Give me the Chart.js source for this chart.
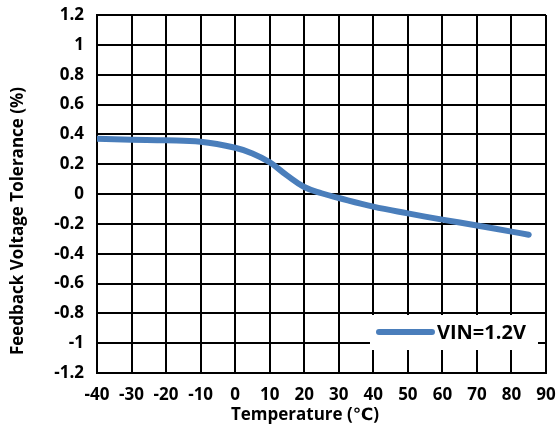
<!DOCTYPE html>
<html>
<head>
<meta charset="utf-8">
<script src="https://cdn.jsdelivr.net/npm/chart.js@4.4.1/dist/chart.umd.min.js"></script>
<style>
  html, body { margin: 0; padding: 0; background: #ffffff; }
  #wrap { width: 560px; height: 427px; position: relative; }
</style>
</head>
<body>
<div id="wrap"><canvas id="chart"></canvas></div>
<script>
// Feedback voltage tolerance over temperature
const temperatures = [-40, -30, -20, -10, 0, 5, 10, 15, 20, 25, 30, 40, 50, 60, 70, 80, 85];
const tolerance = [0.37, 0.364, 0.36, 0.35, 0.31, 0.272, 0.213, 0.125, 0.047, 0.005, -0.027, -0.085, -0.13, -0.172, -0.211, -0.252, -0.273];
const seriesLabel = 'VIN=1.2V';
const xTitle = 'Temperature (℃)';
const yTitle = 'Feedback Voltage Tolerance (%)';
const xRange = { min: -40, max: 90, step: 10 };
const yRange = { min: -1.2, max: 1.2, step: 0.2 };

const FONT = '"Open Sans", "DejaVu Sans", sans-serif';
const lineColor = '#4A7EBB';

// Axis titles placed beside the plot, plus the boxed legend inside the plot
const annotations = {
  id: 'annotations',
  beforeDatasetsDraw(chart) {
    const { ctx, chartArea } = chart;
    const ds = chart.data.datasets[0];
    const x = chartArea.left + (chartArea.right - chartArea.left) * 0.608;
    const y = chartArea.top + (chartArea.bottom - chartArea.top) * 0.838;
    ctx.save();
    ctx.fillStyle = '#ffffff';
    ctx.fillRect(x, y, 168, 35);
    ctx.strokeStyle = ds.borderColor;
    ctx.lineWidth = ds.borderWidth;
    ctx.lineCap = 'round';
    ctx.beginPath();
    ctx.moveTo(x + 9, y + 17);
    ctx.lineTo(x + 62, y + 17);
    ctx.stroke();
    ctx.fillStyle = '#000000';
    ctx.font = 'bold 20px ' + FONT;
    ctx.textAlign = 'left';
    ctx.textBaseline = 'middle';
    ctx.fillText(ds.label, x + 67, y + 18);
    ctx.restore();
  },
  afterDraw(chart) {
    const { ctx } = chart;
    ctx.save();
    ctx.fillStyle = '#000000';
    ctx.font = 'bold 17px ' + FONT;
    ctx.textAlign = 'center';
    ctx.textBaseline = 'middle';
    ctx.fillText(xTitle, 305, 415);
    ctx.translate(18, 221);
    ctx.rotate(-Math.PI / 2);
    ctx.fillText(yTitle, 0, 0);
    ctx.restore();
  }
};

new Chart(document.getElementById('chart'), {
  type: 'line',
  data: {
    datasets: [{
      label: seriesLabel,
      data: temperatures.map((t, i) => ({ x: t, y: tolerance[i] })),
      borderColor: lineColor,
      backgroundColor: lineColor,
      borderWidth: 6,
      borderCapStyle: 'round',
      borderJoinStyle: 'round',
      pointRadius: 0,
      tension: 0.4,
      fill: false
    }]
  },
  options: {
    responsive: true,
    maintainAspectRatio: false,
    animation: false,
    layout: { padding: { top: 15, right: 14, left: 0, bottom: 0 } },
    plugins: { legend: { display: false }, tooltip: { enabled: false } },
    scales: {
      x: {
        type: 'linear',
        min: xRange.min, max: xRange.max,
        ticks: {
          stepSize: xRange.step,
          autoSkip: false,
          maxRotation: 0,
          padding: 12,
          color: '#000000',
          font: { family: FONT, size: 17, weight: 'bold' }
        },
        grid: { color: '#000000', lineWidth: 2, drawTicks: false },
        border: { color: '#000000', width: 2 },
        afterFit(scale) {
          scale.height = 54;
          scale.paddingLeft = 0;
          scale.paddingRight = 0;
        }
      },
      y: {
        min: yRange.min, max: yRange.max,
        ticks: {
          stepSize: yRange.step,
          autoSkip: false,
          padding: 13,
          color: '#000000',
          font: { family: FONT, size: 17, weight: 'bold' },
          callback: v => String(Math.round(v * 10) / 10)
        },
        grid: { color: '#000000', lineWidth: 2, drawTicks: false },
        border: { color: '#000000', width: 2 },
        afterFit(scale) {
          scale.width = 97;
          scale.paddingTop = 0;
          scale.paddingBottom = 0;
        }
      }
    }
  },
  plugins: [annotations]
});
</script>
</body>
</html>
